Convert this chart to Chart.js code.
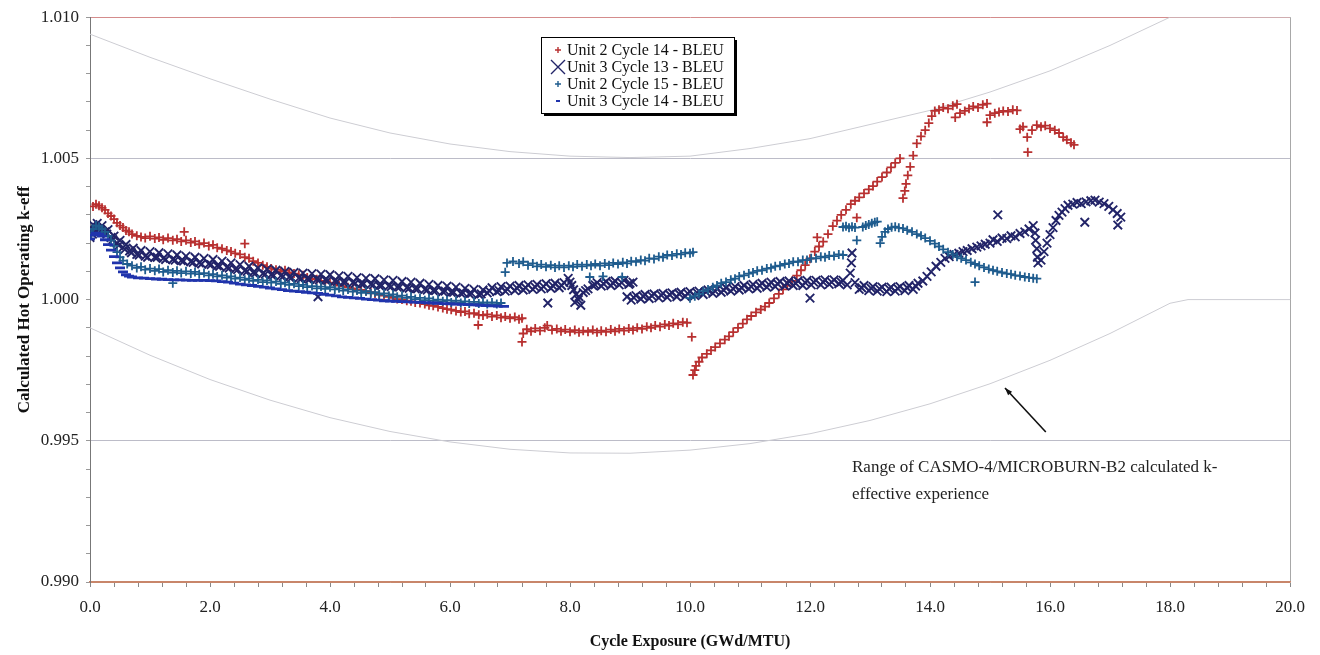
<!DOCTYPE html>
<html lang="en">

<head>
    <meta charset="UTF-8">
    <title>Hot Operating k-eff vs Cycle Exposure</title>
    <script src="https://cdn.jsdelivr.net/npm/chart.js@4.4.0/dist/chart.umd.min.js"></script>
    <style>
        body { margin: 0; background: #fff; }
        #wrap { width: 1320px; height: 655px; }
    </style>
</head>

<body>
    <div id="wrap">
        <canvas id="kChart"></canvas>
    </div>

    <script>
        // [exposure GWd/MTU, k-eff]
        const u2c14 = [
            [0.05,1.00330],[0.10,1.00338],[0.15,1.00332],[0.20,1.00325],[0.25,1.00318],[0.30,1.00305],[0.35,1.00296],
            [0.40,1.00285],[0.45,1.00272],[0.50,1.00262],[0.55,1.00255],[0.60,1.00245],[0.65,1.00240],[0.70,1.00232],
            [0.78,1.00226],[0.85,1.00222],[0.92,1.00218],[1.00,1.00224],[1.08,1.00216],[1.15,1.00220],[1.22,1.00212],
            [1.30,1.00218],[1.38,1.00210],[1.45,1.00214],[1.52,1.00206],[1.57,1.00240],[1.60,1.00210],[1.68,1.00202],
            [1.75,1.00206],[1.82,1.00196],[1.90,1.00200],[1.98,1.00190],[2.05,1.00194],[2.12,1.00184],[2.20,1.00180],
            [2.28,1.00174],[2.35,1.00170],[2.42,1.00164],[2.50,1.00160],[2.58,1.00198],[2.58,1.00150],[2.65,1.00146],
            [2.72,1.00136],[2.80,1.00130],[2.88,1.00122],[2.95,1.00116],[3.02,1.00110],[3.10,1.00106],[3.18,1.00100],
            [3.25,1.00104],[3.32,1.00096],[3.40,1.00092],[3.48,1.00088],[3.55,1.00086],[3.62,1.00078],[3.70,1.00074],
            [3.78,1.00072],[3.85,1.00066],[3.92,1.00062],[4.00,1.00060],[4.08,1.00054],[4.15,1.00050],[4.22,1.00048],
            [4.30,1.00044],[4.38,1.00040],[4.45,1.00036],[4.52,1.00034],[4.60,1.00030],[4.68,1.00026],[4.75,1.00022],
            [4.82,1.00018],[4.90,1.00014],[4.98,1.00010],[5.05,1.00006],[5.12,1.00002],[5.20,1.00000],[5.28,0.99996],
            [5.35,0.99994],[5.42,0.99990],[5.50,0.99988],[5.58,0.99984],[5.65,0.99980],[5.72,0.99978],[5.80,0.99974],
            [5.88,0.99970],[5.95,0.99966],[6.02,0.99964],[6.10,0.99960],[6.18,0.99956],[6.25,0.99958],[6.32,0.99950],
            [6.40,0.99952],[6.47,0.99910],[6.48,0.99946],[6.55,0.99944],[6.62,0.99948],[6.70,0.99940],[6.78,0.99944],
            [6.85,0.99936],[6.92,0.99940],[7.00,0.99934],[7.08,0.99938],[7.15,0.99930],[7.20,0.99934],
            [7.20,0.99850],[7.22,0.99880],[7.28,0.99895],[7.35,0.99888],[7.42,0.99898],[7.50,0.99890],[7.58,0.99900],
            [7.62,0.99908],[7.70,0.99892],[7.78,0.99896],[7.85,0.99888],[7.92,0.99894],[8.00,0.99886],[8.08,0.99892],
            [8.15,0.99884],[8.22,0.99890],[8.30,0.99886],[8.38,0.99892],[8.45,0.99884],[8.52,0.99890],[8.60,0.99886],
            [8.68,0.99894],[8.75,0.99888],[8.82,0.99896],[8.90,0.99890],[8.98,0.99898],[9.05,0.99892],[9.12,0.99900],
            [9.20,0.99896],[9.28,0.99904],[9.35,0.99900],[9.42,0.99908],[9.50,0.99904],[9.58,0.99912],[9.65,0.99908],
            [9.72,0.99916],[9.80,0.99912],[9.88,0.99920],[9.95,0.99918],[10.03,0.99868],
            [10.05,0.99733],[10.08,0.99750],[10.10,0.99765],[10.15,0.99780],[10.20,0.99795],[10.28,0.99808],
            [10.35,0.99820],[10.42,0.99832],[10.50,0.99845],[10.58,0.99858],[10.65,0.99870],[10.72,0.99885],
            [10.80,0.99900],[10.88,0.99915],[10.95,0.99930],[11.02,0.99942],[11.10,0.99955],[11.18,0.99965],
            [11.25,0.99975],[11.32,0.99988],[11.40,1.00004],[11.48,1.00020],[11.55,1.00036],[11.62,1.00050],
            [11.70,1.00066],[11.78,1.00085],[11.85,1.00104],[11.92,1.00122],[12.00,1.00145],[12.08,1.00170],
            [12.12,1.00220],[12.15,1.00188],[12.22,1.00205],[12.30,1.00232],[12.38,1.00260],[12.45,1.00280],
            [12.52,1.00300],[12.60,1.00318],[12.68,1.00338],[12.75,1.00350],[12.78,1.00290],[12.82,1.00362],
            [12.90,1.00376],[12.98,1.00390],[13.05,1.00402],[13.12,1.00418],[13.20,1.00434],[13.28,1.00450],
            [13.35,1.00468],[13.42,1.00484],[13.50,1.00500],
            [13.55,1.00359],[13.58,1.00385],[13.60,1.00410],[13.63,1.00440],[13.67,1.00470],[13.72,1.00510],
            [13.78,1.00553],[13.85,1.00578],[13.92,1.00600],[13.98,1.00625],[14.03,1.00650],[14.08,1.00668],
            [14.15,1.00672],[14.22,1.00680],[14.30,1.00676],[14.38,1.00686],[14.45,1.00692],[14.42,1.00645],
            [14.50,1.00660],[14.58,1.00668],[14.65,1.00676],[14.72,1.00684],[14.80,1.00680],[14.88,1.00690],
            [14.95,1.00694],[14.95,1.00628],[15.00,1.00653],[15.08,1.00660],[15.15,1.00664],[15.22,1.00668],
            [15.30,1.00666],[15.38,1.00672],[15.45,1.00670],[15.50,1.00604],[15.55,1.00612],[15.62,1.00575],
            [15.63,1.00522],[15.70,1.00600],[15.78,1.00618],[15.85,1.00612],[15.92,1.00616],[16.00,1.00606],
            [16.08,1.00600],[16.15,1.00590],[16.22,1.00575],[16.28,1.00566],[16.35,1.00555],[16.40,1.00548]
        ];

        const u3c13 = [
            [0.00,1.00220],[0.02,1.00250],[0.05,1.00265],[0.08,1.00240],[0.12,1.00270],[0.16,1.00250],[0.20,1.00262],
            [0.25,1.00240],[0.30,1.00248],[0.35,1.00220],[0.40,1.00225],[0.45,1.00200],[0.50,1.00210],[0.55,1.00185],
            [0.60,1.00195],[0.66,1.00172],[0.72,1.00182],[0.78,1.00160],[0.85,1.00174],[0.92,1.00154],[1.00,1.00170],
            [1.08,1.00150],[1.15,1.00166],[1.22,1.00146],[1.30,1.00162],[1.38,1.00142],[1.45,1.00158],[1.52,1.00138],
            [1.60,1.00154],[1.68,1.00134],[1.75,1.00150],[1.82,1.00130],[1.90,1.00146],[1.98,1.00126],[2.05,1.00142],
            [2.12,1.00120],[2.20,1.00136],[2.28,1.00114],[2.35,1.00130],[2.42,1.00108],[2.50,1.00124],[2.58,1.00102],
            [2.65,1.00118],[2.72,1.00096],[2.80,1.00112],[2.88,1.00092],[2.95,1.00108],[3.02,1.00088],[3.10,1.00104],
            [3.18,1.00084],[3.25,1.00100],[3.32,1.00080],[3.40,1.00096],[3.48,1.00076],[3.55,1.00094],[3.62,1.00074],
            [3.70,1.00092],[3.78,1.00072],[3.80,1.00010],[3.85,1.00090],[3.92,1.00070],[4.00,1.00088],[4.08,1.00066],
            [4.15,1.00084],[4.22,1.00062],[4.30,1.00082],[4.38,1.00060],[4.45,1.00078],[4.52,1.00056],[4.60,1.00076],
            [4.68,1.00054],[4.75,1.00074],[4.82,1.00050],[4.90,1.00070],[4.98,1.00048],[5.05,1.00068],[5.12,1.00044],
            [5.20,1.00064],[5.28,1.00042],[5.35,1.00062],[5.42,1.00038],[5.50,1.00058],[5.58,1.00036],[5.65,1.00054],
            [5.72,1.00032],[5.80,1.00050],[5.88,1.00028],[5.95,1.00048],[6.02,1.00026],[6.10,1.00044],[6.18,1.00022],
            [6.25,1.00040],[6.32,1.00020],[6.40,1.00036],[6.48,1.00018],[6.55,1.00034],[6.62,1.00024],[6.70,1.00042],
            [6.78,1.00028],[6.85,1.00046],[6.92,1.00030],[7.00,1.00048],[7.08,1.00032],[7.15,1.00050],[7.22,1.00034],
            [7.30,1.00052],[7.38,1.00036],[7.45,1.00054],[7.52,1.00038],[7.60,1.00056],[7.63,0.99988],[7.68,1.00040],
            [7.75,1.00058],[7.82,1.00042],[7.90,1.00060],[7.97,1.00075],[8.00,1.00062],[8.03,1.00050],[8.06,1.00035],
            [8.10,1.00018],[8.14,1.00000],[8.18,0.99980],[8.08,0.99990],[8.15,1.00010],[8.22,1.00025],[8.30,1.00038],
            [8.38,1.00050],[8.45,1.00060],[8.52,1.00048],[8.60,1.00064],[8.68,1.00050],[8.75,1.00066],[8.82,1.00052],
            [8.90,1.00068],[8.98,1.00054],[9.05,1.00062],
            [0.04,1.00232],[0.10,1.00256],[0.18,1.00244],[0.28,1.00232],[0.38,1.00212],[0.48,1.00192],[0.58,1.00178],
            [0.69,1.00166],[0.82,1.00158],[0.96,1.00150],[1.12,1.00150],[1.26,1.00142],[1.42,1.00140],[1.56,1.00136],
            [1.72,1.00132],[1.86,1.00126],[2.02,1.00124],[2.16,1.00118],[2.32,1.00112],[2.46,1.00106],[2.62,1.00100],
            [2.76,1.00094],[2.92,1.00090],[3.06,1.00086],[3.22,1.00082],[3.36,1.00078],[3.52,1.00074],[3.66,1.00072],
            [3.82,1.00070],[3.96,1.00068],[4.12,1.00064],[4.26,1.00062],[4.42,1.00058],[4.56,1.00056],[4.72,1.00052],
            [4.86,1.00050],[5.02,1.00046],[5.16,1.00044],[5.32,1.00040],[5.46,1.00038],[5.62,1.00034],[5.76,1.00032],
            [5.92,1.00030],[6.06,1.00026],[6.22,1.00024],[6.36,1.00022],[6.52,1.00020],[6.66,1.00030],[6.82,1.00032],
            [6.96,1.00036],[7.12,1.00040],[7.26,1.00042],[7.42,1.00044],[7.56,1.00046],[7.72,1.00048],[7.86,1.00050],
            [8.26,1.00032],[8.42,1.00052],[8.56,1.00056],[8.72,1.00058],[8.86,1.00060],[9.00,1.00058],
            [8.95,1.00010],[9.02,0.99998],[9.10,1.00014],[9.18,1.00002],[9.25,1.00018],[9.32,1.00004],[9.40,1.00020],
            [9.48,1.00006],[9.55,1.00022],[9.62,1.00008],[9.70,1.00024],[9.78,1.00010],[9.85,1.00026],[9.92,1.00012],
            [10.00,1.00028],[10.08,1.00014],[10.15,1.00030],[10.22,1.00018],[10.30,1.00034],[10.38,1.00022],
            [10.45,1.00038],[10.52,1.00026],[10.60,1.00042],[10.68,1.00030],[10.75,1.00046],[10.82,1.00034],
            [10.90,1.00050],[10.98,1.00038],[11.05,1.00054],[11.12,1.00040],[11.20,1.00058],[11.28,1.00044],
            [11.35,1.00062],[11.42,1.00046],[11.50,1.00064],[11.58,1.00048],[11.65,1.00066],[11.72,1.00050],
            [11.80,1.00066],[11.88,1.00050],[11.95,1.00068],[12.00,1.00005],[12.02,1.00052],[12.10,1.00068],
            [12.18,1.00052],[12.25,1.00070],[12.32,1.00054],[12.40,1.00070],[12.48,1.00056],[12.55,1.00068],
            [12.62,1.00052],[12.67,1.00094],[12.69,1.00130],[12.70,1.00165],[12.75,1.00060],[12.82,1.00036],
            [12.90,1.00050],[12.98,1.00032],[13.05,1.00046],[13.12,1.00030],[13.20,1.00044],[13.28,1.00028],
            [13.35,1.00044],[13.42,1.00030],[13.50,1.00046],[13.58,1.00032],[13.65,1.00050],[13.72,1.00036],
            [9.06,1.00008],[9.22,1.00012],[9.36,1.00014],[9.52,1.00016],[9.66,1.00018],[9.82,1.00020],[9.96,1.00022],
            [10.12,1.00024],[10.26,1.00028],[10.42,1.00030],[10.56,1.00034],[10.72,1.00038],[10.86,1.00042],
            [11.02,1.00046],[11.16,1.00050],[11.32,1.00052],[11.46,1.00056],[11.62,1.00058],[11.76,1.00058],
            [11.92,1.00060],[12.06,1.00062],[12.22,1.00062],[12.36,1.00062],[12.52,1.00062],[12.86,1.00042],
            [13.02,1.00040],[13.16,1.00038],[13.32,1.00038],[13.46,1.00040],[13.62,1.00042],[13.76,1.00048],
            [13.80,1.00058],[13.88,1.00066],[13.95,1.00082],[14.02,1.00098],[14.10,1.00118],[14.18,1.00132],
            [14.25,1.00146],[14.32,1.00152],[14.40,1.00160],[14.48,1.00164],[14.55,1.00170],[14.62,1.00174],
            [14.70,1.00180],[14.78,1.00186],[14.85,1.00190],[14.92,1.00196],[15.00,1.00200],[15.05,1.00212],
            [15.13,1.00300],[15.12,1.00206],[15.20,1.00218],[15.28,1.00216],[15.35,1.00226],[15.42,1.00222],
            [15.50,1.00234],[15.58,1.00240],[15.65,1.00250],[15.72,1.00262],[15.75,1.00236],[15.76,1.00210],
            [15.78,1.00180],[15.79,1.00150],[15.80,1.00130],
            [15.85,1.00140],[15.90,1.00170],[15.95,1.00200],[16.00,1.00230],[16.05,1.00255],[16.10,1.00280],
            [16.15,1.00298],[16.20,1.00310],[16.25,1.00322],[16.30,1.00334],[16.38,1.00338],[16.45,1.00344],
            [16.52,1.00340],[16.58,1.00274],[16.60,1.00346],[16.68,1.00350],[16.75,1.00352],[16.82,1.00345],
            [16.90,1.00340],[16.98,1.00330],[17.05,1.00318],[17.12,1.00305],[17.13,1.00264],[17.18,1.00292]
        ];

        const u2c15 = [
            [0.02,1.00230],[0.05,1.00250],[0.10,1.00262],[0.15,1.00258],[0.20,1.00250],[0.25,1.00240],[0.30,1.00226],
            [0.35,1.00210],[0.40,1.00190],[0.45,1.00168],[0.50,1.00150],[0.55,1.00138],[0.62,1.00126],[0.70,1.00120],
            [0.78,1.00112],[0.85,1.00116],[0.92,1.00106],[1.00,1.00110],[1.08,1.00102],[1.15,1.00108],[1.22,1.00098],
            [1.30,1.00104],[1.38,1.00058],[1.38,1.00096],[1.45,1.00102],[1.52,1.00094],[1.60,1.00100],[1.68,1.00092],
            [1.75,1.00098],[1.82,1.00090],[1.90,1.00094],[1.98,1.00086],[2.05,1.00090],[2.12,1.00082],[2.20,1.00086],
            [2.28,1.00078],[2.35,1.00082],[2.42,1.00074],[2.50,1.00078],[2.58,1.00070],[2.65,1.00074],[2.72,1.00066],
            [2.80,1.00070],[2.88,1.00062],[2.95,1.00068],[3.02,1.00060],[3.10,1.00064],[3.18,1.00056],[3.25,1.00060],
            [3.32,1.00052],[3.40,1.00056],[3.48,1.00048],[3.55,1.00052],[3.62,1.00044],[3.70,1.00048],[3.78,1.00040],
            [3.85,1.00046],[3.92,1.00038],[4.00,1.00044],[4.08,1.00036],[4.15,1.00040],[4.22,1.00032],[4.30,1.00036],
            [4.38,1.00028],[4.45,1.00032],[4.52,1.00024],[4.60,1.00030],[4.68,1.00022],[4.75,1.00026],[4.82,1.00018],
            [4.90,1.00022],[4.98,1.00014],[5.05,1.00018],[5.12,1.00010],[5.20,1.00014],[5.28,1.00006],[5.35,1.00010],
            [5.42,1.00002],[5.50,1.00006],[5.58,0.99998],[5.65,1.00004],[5.72,0.99996],[5.80,1.00000],[5.88,0.99994],
            [5.95,0.99998],[6.02,0.99990],[6.10,0.99996],[6.18,0.99988],[6.25,0.99994],[6.32,0.99986],[6.40,0.99992],
            [6.48,0.99986],[6.55,0.99990],[6.62,0.99984],[6.70,0.99990],[6.78,0.99984],[6.85,0.99988],
            [6.92,1.00097],[6.95,1.00130],[7.05,1.00135],[7.15,1.00128],[7.22,1.00134],[7.30,1.00122],[7.38,1.00128],
            [7.45,1.00118],[7.52,1.00124],[7.60,1.00116],[7.68,1.00122],[7.75,1.00114],[7.82,1.00120],[7.90,1.00114],
            [7.98,1.00120],[8.05,1.00116],[8.12,1.00124],[8.20,1.00118],[8.28,1.00124],[8.33,1.00080],[8.35,1.00120],
            [8.42,1.00126],[8.50,1.00120],[8.55,1.00082],[8.58,1.00128],[8.65,1.00122],[8.72,1.00130],[8.80,1.00126],
            [8.87,1.00080],[8.88,1.00132],[8.95,1.00128],[9.02,1.00136],[9.10,1.00134],[9.18,1.00140],[9.25,1.00138],
            [9.32,1.00146],[9.40,1.00144],[9.48,1.00152],[9.55,1.00150],[9.62,1.00158],[9.70,1.00156],[9.78,1.00162],
            [9.85,1.00160],[9.92,1.00166],[10.00,1.00164],[10.05,1.00168],
            [10.00,1.00005],[10.08,1.00012],[10.15,1.00020],[10.22,1.00030],[10.30,1.00036],[10.38,1.00044],
            [10.45,1.00050],[10.52,1.00058],[10.60,1.00062],[10.68,1.00070],[10.75,1.00074],[10.82,1.00082],
            [10.90,1.00086],[10.98,1.00092],[11.05,1.00096],[11.12,1.00102],[11.20,1.00104],[11.28,1.00110],
            [11.35,1.00112],[11.42,1.00118],[11.50,1.00120],[11.58,1.00126],[11.65,1.00128],[11.72,1.00134],
            [11.80,1.00134],[11.88,1.00140],[11.95,1.00140],[12.02,1.00146],[12.10,1.00146],[12.18,1.00152],
            [12.25,1.00150],[12.32,1.00156],[12.40,1.00154],[12.48,1.00160],[12.55,1.00158],
            [12.55,1.00257],[12.60,1.00260],[12.65,1.00254],[12.70,1.00258],[12.75,1.00255],[12.78,1.00210],
            [12.88,1.00257],[12.93,1.00262],[12.98,1.00266],[13.03,1.00270],[13.08,1.00274],[13.12,1.00276],
            [13.17,1.00200],[13.20,1.00222],[13.25,1.00240],[13.30,1.00250],[13.36,1.00256],[13.42,1.00258],
            [13.48,1.00254],[13.55,1.00252],[13.62,1.00246],[13.70,1.00240],[13.78,1.00232],[13.85,1.00226],
            [13.92,1.00218],[14.00,1.00208],[14.08,1.00198],[14.15,1.00188],[14.22,1.00178],[14.30,1.00168],
            [14.38,1.00160],[14.45,1.00152],[14.52,1.00146],[14.60,1.00140],[14.68,1.00132],[14.75,1.00062],
            [14.75,1.00126],[14.82,1.00120],[14.90,1.00114],[14.98,1.00108],[15.05,1.00104],[15.12,1.00100],
            [15.20,1.00096],[15.28,1.00092],[15.35,1.00090],[15.42,1.00086],[15.50,1.00084],[15.58,1.00080],
            [15.65,1.00078],[15.72,1.00076],[15.78,1.00074]
        ];

        const u3c14 = [
            [0.00,1.00215],[0.05,1.00228],[0.10,1.00235],[0.15,1.00232],[0.20,1.00225],[0.25,1.00212],[0.30,1.00195],
            [0.35,1.00175],[0.40,1.00152],[0.45,1.00130],[0.50,1.00112],[0.55,1.00098],[0.60,1.00088],[0.65,1.00083],
            [0.70,1.00080],[0.80,1.00077],[0.90,1.00076],[1.00,1.00074],[1.10,1.00073],[1.20,1.00072],[1.30,1.00071],
            [1.40,1.00070],[1.50,1.00070],[1.60,1.00069],[1.70,1.00068],[1.80,1.00068],[1.90,1.00068],[2.00,1.00067],
            [2.10,1.00066],[2.20,1.00064],[2.30,1.00062],[2.40,1.00058],[2.50,1.00055],[2.60,1.00052],[2.70,1.00050],
            [2.80,1.00047],[2.90,1.00044],[3.00,1.00041],[3.10,1.00038],[3.20,1.00035],[3.30,1.00032],[3.40,1.00030],
            [3.50,1.00028],[3.60,1.00026],[3.70,1.00024],[3.80,1.00022],[3.90,1.00019],[4.00,1.00016],[4.10,1.00013],
            [4.20,1.00010],[4.30,1.00008],[4.40,1.00006],[4.50,1.00004],[4.60,1.00002],[4.70,1.00000],[4.80,0.99998],
            [4.90,0.99996],[5.00,0.99995],[5.10,0.99994],[5.20,0.99993],[5.30,0.99992],[5.40,0.99991],[5.50,0.99990],
            [5.60,0.99989],[5.70,0.99988],[5.80,0.99987],[5.90,0.99986],[6.00,0.99985],[6.10,0.99984],[6.20,0.99983],
            [6.30,0.99982],[6.40,0.99981],[6.50,0.99980],[6.60,0.99979],[6.70,0.99978],[6.80,0.99977],[6.90,0.99976]
        ];

        // range of calculated k-effective experience
        const bandUpper = [
            [0,1.00940],[1,1.00858],[2,1.00782],[3,1.00710],[4,1.00643],[5,1.00590],[6,1.00551],[7,1.00524],
            [8,1.00508],[9,1.00503],[10,1.00508],[11,1.00535],[12,1.00570],[13,1.00620],[14,1.00670],[15,1.00735],
            [16,1.00810],[17,1.00900],[18,1.01000],[20,1.01000]
        ];
        const bandLower = [
            [0,0.99900],[1,0.99803],[2,0.99717],[3,0.99644],[4,0.99582],[5,0.99533],[6,0.99496],[7,0.99470],
            [8,0.99457],[9,0.99456],[10,0.99467],[11,0.99490],[12,0.99525],[13,0.99572],[14,0.99631],[15,0.99702],
            [16,0.99785],[17,0.99880],[18,0.99987],[18.3,1.00000],[20,1.00000]
        ];

        const seriesNames = ['Unit 2 Cycle 14 - BLEU', 'Unit 3 Cycle 13 - BLEU', 'Unit 2 Cycle 15 - BLEU', 'Unit 3 Cycle 14 - BLEU'];
        const noteLines = ['Range of CASMO-4/MICROBURN-B2 calculated k-', 'effective experience'];
        const notePos = { x: 12.7, y: 0.99404 };
        const arrowTip = { x: 15.25, y: 0.99687 };
        const arrowTail = { x: 15.93, y: 0.99531 };

        const FONT = "'Liberation Serif', 'Times New Roman', serif";
        const toXY = arr => arr.map(p => ({ x: p[0], y: p[1] }));

        const colors = ['#b83030', '#222468', '#1f5c8e', '#2034ac'];
        const styles = ['cross', 'crossRot', 'cross', 'line'];

        function drawMarker(ctx, style, x, y, r) {
            ctx.beginPath();
            if (style === 'cross') {
                ctx.moveTo(x - r, y); ctx.lineTo(x + r, y);
                ctx.moveTo(x, y - r); ctx.lineTo(x, y + r);
            } else if (style === 'crossRot') {
                ctx.moveTo(x - r, y - r); ctx.lineTo(x + r, y + r);
                ctx.moveTo(x - r, y + r); ctx.lineTo(x + r, y - r);
            } else {
                ctx.moveTo(x - r, y); ctx.lineTo(x + r, y);
            }
            ctx.stroke();
        }

        // legend box, note text and arrow
        const extras = {
            id: 'extras',
            afterDraw(chart) {
                const ctx = chart.ctx;
                const xs = chart.scales.x, ys = chart.scales.y;
                ctx.save();

                // legend
                const bx = 541, by = 37, bw = 193, bh = 76;
                ctx.fillStyle = '#000';
                ctx.fillRect(bx + 3, by + 3, bw, bh);
                ctx.fillStyle = '#fff';
                ctx.fillRect(bx, by, bw, bh);
                ctx.strokeStyle = '#000';
                ctx.lineWidth = 1;
                ctx.strokeRect(bx + 0.5, by + 0.5, bw, bh);
                ctx.font = '16px ' + FONT;
                ctx.textBaseline = 'middle';
                const sizes = [3, 7, 3, 2];
                seriesNames.forEach((name, i) => {
                    const yy = by + 13 + i * 17;
                    ctx.strokeStyle = colors[i];
                    ctx.lineWidth = i === 3 ? 2 : 1.4;
                    drawMarker(ctx, styles[i], 558, yy, sizes[i]);
                    ctx.fillStyle = '#111';
                    ctx.fillText(name, 567, yy + 1);
                });

                // note
                ctx.font = '17px ' + FONT;
                ctx.fillStyle = '#222';
                ctx.textBaseline = 'middle';
                const nx = xs.getPixelForValue(notePos.x), ny = ys.getPixelForValue(notePos.y);
                noteLines.forEach((t, i) => ctx.fillText(t, nx, ny + i * 27));

                // arrow
                const tx = xs.getPixelForValue(arrowTip.x), ty = ys.getPixelForValue(arrowTip.y);
                const sx = xs.getPixelForValue(arrowTail.x), sy = ys.getPixelForValue(arrowTail.y);
                ctx.strokeStyle = '#111';
                ctx.fillStyle = '#111';
                ctx.lineWidth = 1.6;
                ctx.beginPath();
                ctx.moveTo(sx, sy);
                ctx.lineTo(tx, ty);
                ctx.stroke();
                const ang = Math.atan2(ty - sy, tx - sx);
                ctx.beginPath();
                ctx.moveTo(tx, ty);
                ctx.lineTo(tx - 8 * Math.cos(ang - 0.35), ty - 8 * Math.sin(ang - 0.35));
                ctx.lineTo(tx - 8 * Math.cos(ang + 0.35), ty - 8 * Math.sin(ang + 0.35));
                ctx.closePath();
                ctx.fill();
                ctx.restore();
            }
        };

        const ctx = document.getElementById('kChart').getContext('2d');
        const chart = new Chart(ctx, {
            type: 'scatter',
            data: {
                datasets: [
                    {
                        label: 'upper',
                        data: toXY(bandUpper),
                        showLine: true,
                        pointRadius: 0,
                        borderColor: '#cdcdd3',
                        borderWidth: 1,
                        order: 6
                    },
                    {
                        label: 'lower',
                        data: toXY(bandLower),
                        showLine: true,
                        pointRadius: 0,
                        borderColor: '#cdcdd3',
                        borderWidth: 1,
                        order: 6
                    },
                    {
                        label: seriesNames[0],
                        data: toXY(u2c14),
                        pointStyle: 'cross',
                        pointRadius: 4.5,
                        borderWidth: 1.8,
                        borderColor: colors[0],
                        order: 4
                    },
                    {
                        label: seriesNames[1],
                        data: toXY(u3c13),
                        pointStyle: 'crossRot',
                        pointRadius: 6,
                        borderWidth: 1.9,
                        borderColor: colors[1],
                        order: 3
                    },
                    {
                        label: seriesNames[2],
                        data: toXY(u2c15),
                        pointStyle: 'cross',
                        pointRadius: 4.5,
                        borderWidth: 1.8,
                        borderColor: colors[2],
                        order: 2
                    },
                    {
                        label: seriesNames[3],
                        data: toXY(u3c14),
                        pointStyle: 'line',
                        pointRadius: 5,
                        borderWidth: 2.8,
                        borderColor: colors[3],
                        order: 1
                    }
                ]
            },
            options: {
                responsive: true,
                maintainAspectRatio: false,
                animation: false,
                layout: { padding: { top: 17, right: 30, left: 0, bottom: 0 } },
                plugins: {
                    legend: { display: false },
                    tooltip: { enabled: false }
                },
                scales: {
                    x: {
                        type: 'linear',
                        min: 0,
                        max: 20,
                        afterFit: s => { s.height = 73; },
                        ticks: {
                            stepSize: 0.4,
                            autoSkip: false,
                            maxRotation: 0,
                            padding: 10,
                            color: '#222',
                            font: { family: FONT, size: 17 },
                            callback: v => {
                                const r = v / 2;
                                return Math.abs(r - Math.round(r)) < 1e-6 ? Number(v).toFixed(1) : '';
                            }
                        },
                        grid: {
                            color: c => (c.tick && Math.abs(c.tick.value - 20) < 1e-6) ? '#a8a8a8' : 'rgba(0,0,0,0)',
                            tickColor: '#888',
                            tickLength: 5
                        },
                        border: { color: '#c8866a', width: 1.5 },
                        title: {
                            display: true,
                            text: 'Cycle Exposure (GWd/MTU)',
                            color: '#111',
                            font: { family: FONT, size: 16, weight: 'bold' },
                            padding: { top: 10 }
                        }
                    },
                    y: {
                        min: 0.990,
                        max: 1.010,
                        afterFit: s => { s.width = 90; },
                        ticks: {
                            stepSize: 0.001,
                            autoSkip: false,
                            padding: 7,
                            color: '#222',
                            font: { family: FONT, size: 17 },
                            callback: v => Math.round(v * 1000) % 5 === 0 ? Number(v).toFixed(3) : ''
                        },
                        grid: {
                            color: c => {
                                const m = Math.round(c.tick.value * 1000);
                                if (m === 995 || m === 1005) return '#bcbcc8';
                                if (m === 1010) return '#d48c8c';
                                if (m === 990) return '#c8866a';
                                return 'rgba(0,0,0,0)';
                            },
                            tickColor: '#999',
                            tickLength: 4
                        },
                        border: { color: '#777', width: 1 },
                        title: {
                            display: true,
                            text: 'Calculated Hot Operating k-eff',
                            color: '#111',
                            font: { family: FONT, size: 17, weight: 'bold' },
                            padding: { top: 14, bottom: 0 }
                        }
                    }
                }
            },
            plugins: [extras]
        });
    </script>
</body>

</html>
